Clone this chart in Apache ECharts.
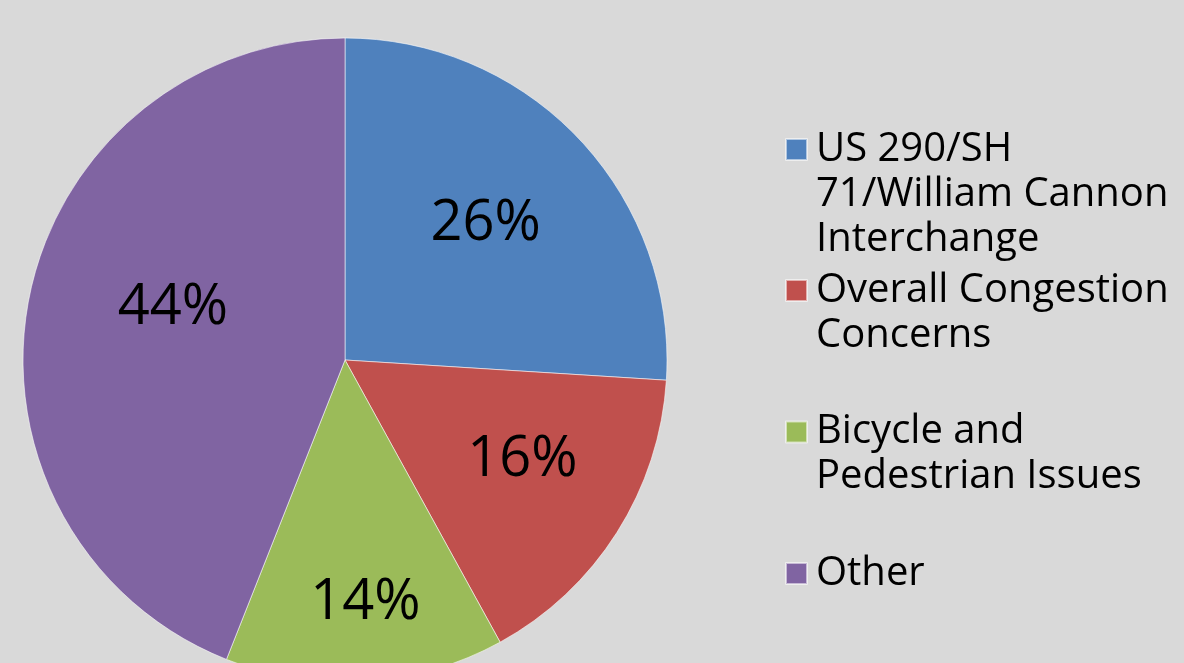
<!DOCTYPE html>
<html>
<head>
<meta charset="utf-8">
<script src="https://cdn.jsdelivr.net/npm/echarts@6/dist/echarts.min.js"></script>
<style>
  html, body { margin: 0; padding: 0; background: #d9d9d9; }
  #chart { width: 1184px; height: 663px; }
</style>
</head>
<body>
<div id="chart"></div>
<script>
const FONT = '"Open Sans", "Noto Sans", sans-serif';

const categories = ['US 290/SH 71/William Cannon Interchange', 'Overall Congestion Concerns', 'Bicycle and Pedestrian Issues', 'Other'];
const legendLines = [
    ['US 290/SH', '71/William Cannon', 'Interchange'],
    ['Overall Congestion', 'Concerns'],
    ['Bicycle and', 'Pedestrian Issues'],
    ['Other'],
];
const values = [26, 16, 14, 44];
const colors = ['#4f81bd', '#c0504d', '#9bbb59', '#8064a2'];

// nudges so the labels sit where the original placed them
const labelNudge = [[21, -24], [39, 12], [10, 79], [-11, -21]];
const legendTops = [37, 223, 364.5, 551];

const LINE_H = 45;

const chart = echarts.init(document.getElementById('chart'), null, { renderer: 'canvas' });

// legend text is centred on the swatch, so pad with blank lines above
// to keep the swatch level with the first line (like Excel does)
const legends = categories.map((name, i) => ({
    data: [name],
    orient: 'vertical',
    left: 785,
    top: legendTops[i],
    padding: 0,
    icon: 'rect',
    itemWidth: 21,
    itemHeight: 21,
    selectedMode: false,
    formatter: () => new Array(legendLines[i].length - 1).fill('').concat(legendLines[i]).join('\n'),
    textStyle: {
        fontFamily: FONT,
        fontSize: 40,
        color: '#000',
        lineHeight: LINE_H,
        padding: [0, 0, 0, 4],
    },
}));

chart.setOption({
    backgroundColor: '#d9d9d9',
    animation: false,
    color: colors,
    legend: legends,
    series: [{
        type: 'pie',
        center: [345, 360],
        radius: 322,
        startAngle: 90,
        clockwise: true,
        itemStyle: { borderColor: 'rgba(255,255,255,0.55)', borderWidth: 1 },
        label: {
            show: true,
            position: 'inside',
            formatter: '{c}%',
            fontFamily: FONT,
            fontSize: 56,
            color: '#000',
        },
        labelLine: { show: false },
        emphasis: { disabled: true },
        data: categories.map((name, i) => ({
            name,
            value: values[i],
            label: { offset: labelNudge[i] },
        })),
    }],
});
</script>
</body>
</html>
